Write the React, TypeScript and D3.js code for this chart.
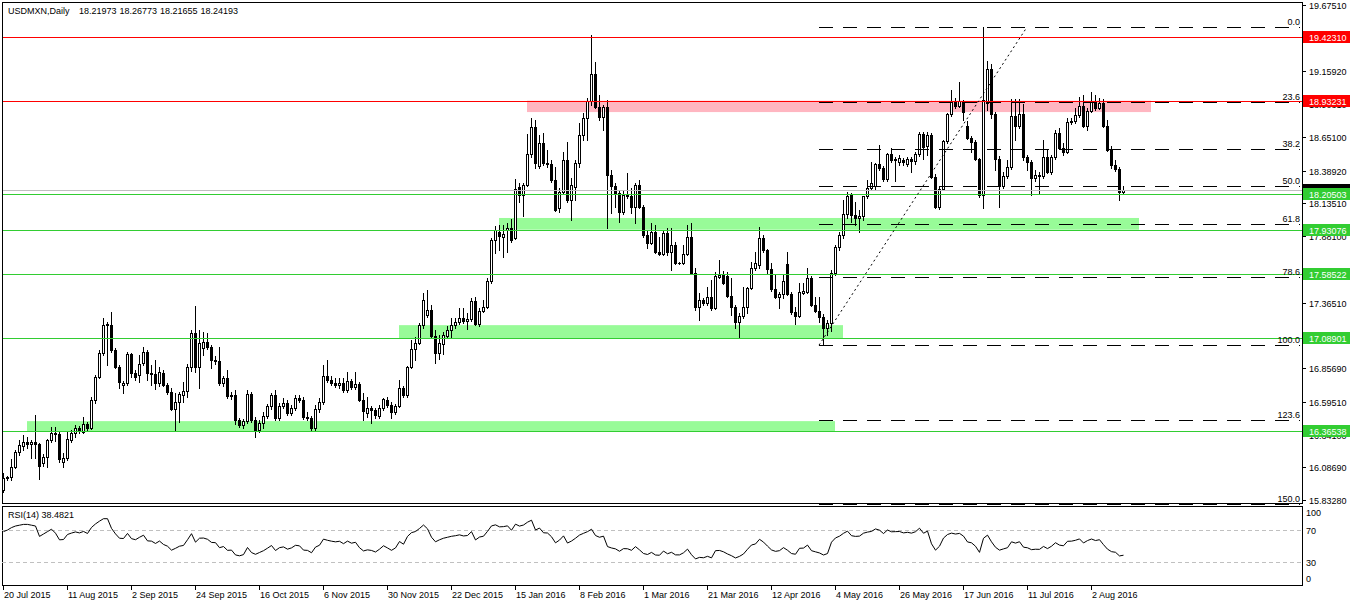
import React from "react";
import * as d3 from "d3";

const symbolTitle = "USDMXN,Daily";
const lastQuote = ["18.21973", "18.26773", "18.21655", "18.24193"];
const rsiTitle = "RSI(14) 38.4821";

// Daily candles [open, high, low, close], 20 Jul 2015 .. 10 Aug 2016
const ohlc: [number, number, number, number][] = [
  [15.910, 16.042, 15.894, 16.003], [16.003, 16.018, 15.987, 16.011], [16.011, 16.150, 15.987, 16.089], [16.089, 16.220, 16.081, 16.204],
  [16.204, 16.298, 16.181, 16.259], [16.251, 16.336, 16.220, 16.282], [16.282, 16.321, 16.236, 16.267], [16.267, 16.298, 16.158, 16.282],
  [16.282, 16.492, 16.158, 16.267], [16.267, 16.275, 15.995, 16.096], [16.120, 16.189, 16.096, 16.166], [16.166, 16.305, 16.089, 16.298],
  [16.298, 16.399, 16.282, 16.352], [16.352, 16.399, 16.290, 16.344], [16.344, 16.359, 16.127, 16.150], [16.127, 16.197, 16.089, 16.158],
  [16.158, 16.359, 16.143, 16.305], [16.298, 16.375, 16.282, 16.352], [16.352, 16.414, 16.321, 16.391], [16.391, 16.406, 16.352, 16.375],
  [16.359, 16.477, 16.352, 16.422], [16.422, 16.437, 16.375, 16.391], [16.391, 16.632, 16.383, 16.608], [16.608, 16.802, 16.585, 16.787],
  [16.787, 16.997, 16.779, 16.974], [16.974, 17.245, 16.958, 17.190], [17.198, 17.213, 16.880, 17.190], [17.190, 17.291, 16.981, 16.997],
  [16.997, 17.012, 16.857, 16.865], [16.865, 16.880, 16.702, 16.748], [16.725, 16.756, 16.663, 16.741], [16.741, 16.981, 16.725, 16.966],
  [16.966, 16.974, 16.787, 16.818], [16.818, 16.841, 16.764, 16.787], [16.802, 16.958, 16.748, 16.888], [16.896, 17.020, 16.880, 16.981],
  [16.981, 16.997, 16.764, 16.818], [16.818, 16.880, 16.725, 16.810], [16.810, 16.919, 16.694, 16.741], [16.741, 16.865, 16.717, 16.826],
  [16.818, 16.841, 16.717, 16.725], [16.725, 16.741, 16.655, 16.671], [16.671, 16.702, 16.531, 16.538], [16.538, 16.663, 16.367, 16.592],
  [16.592, 16.671, 16.437, 16.655], [16.647, 16.748, 16.592, 16.678], [16.678, 16.888, 16.632, 16.865], [16.865, 17.152, 16.833, 17.129],
  [17.129, 17.338, 16.826, 16.865], [16.865, 17.152, 16.702, 17.051], [17.012, 17.136, 16.958, 17.059], [17.059, 17.129, 17.005, 17.020],
  [17.020, 17.035, 16.857, 16.919], [16.919, 16.950, 16.888, 16.911], [16.911, 17.020, 16.725, 16.741], [16.741, 16.795, 16.717, 16.779],
  [16.779, 16.841, 16.624, 16.640], [16.640, 16.671, 16.616, 16.647], [16.647, 16.686, 16.422, 16.453], [16.453, 16.468, 16.399, 16.414],
  [16.414, 16.460, 16.391, 16.445], [16.445, 16.686, 16.430, 16.655], [16.655, 16.671, 16.437, 16.453], [16.453, 16.477, 16.321, 16.375],
  [16.375, 16.453, 16.359, 16.430], [16.430, 16.515, 16.391, 16.484], [16.484, 16.577, 16.468, 16.561], [16.561, 16.663, 16.538, 16.647],
  [16.647, 16.686, 16.453, 16.468], [16.468, 16.585, 16.453, 16.561], [16.561, 16.624, 16.546, 16.585], [16.585, 16.608, 16.492, 16.508],
  [16.508, 16.569, 16.492, 16.546], [16.546, 16.647, 16.531, 16.624], [16.624, 16.647, 16.592, 16.608], [16.608, 16.632, 16.460, 16.477],
  [16.477, 16.515, 16.453, 16.468], [16.468, 16.484, 16.375, 16.391], [16.391, 16.569, 16.375, 16.538], [16.538, 16.624, 16.515, 16.592],
  [16.592, 16.880, 16.577, 16.795], [16.795, 16.919, 16.748, 16.764], [16.764, 16.795, 16.725, 16.741], [16.741, 16.779, 16.710, 16.725],
  [16.725, 16.779, 16.702, 16.741], [16.741, 16.779, 16.671, 16.686], [16.686, 16.826, 16.671, 16.756], [16.756, 16.771, 16.694, 16.710],
  [16.710, 16.826, 16.694, 16.733], [16.733, 16.748, 16.600, 16.608], [16.608, 16.663, 16.453, 16.523], [16.508, 16.632, 16.477, 16.546],
  [16.546, 16.561, 16.430, 16.531], [16.531, 16.546, 16.468, 16.492], [16.484, 16.569, 16.468, 16.546], [16.546, 16.624, 16.531, 16.616],
  [16.608, 16.632, 16.554, 16.569], [16.569, 16.592, 16.468, 16.515], [16.515, 16.577, 16.500, 16.561], [16.561, 16.764, 16.554, 16.702],
  [16.702, 16.717, 16.632, 16.647], [16.647, 16.872, 16.632, 16.865], [16.865, 17.074, 16.857, 17.005], [17.005, 17.098, 16.919, 17.051],
  [17.051, 17.206, 17.043, 17.190], [17.190, 17.439, 17.167, 17.385], [17.268, 17.462, 17.253, 17.307], [17.307, 17.346, 17.098, 17.105],
  [17.105, 17.152, 16.896, 16.974], [16.974, 17.113, 16.927, 17.051], [17.043, 17.136, 16.966, 17.113], [17.105, 17.183, 17.090, 17.152],
  [17.152, 17.245, 17.098, 17.190], [17.190, 17.245, 17.167, 17.213], [17.213, 17.322, 17.198, 17.245], [17.245, 17.322, 17.206, 17.222],
  [17.222, 17.284, 17.159, 17.237], [17.237, 17.400, 17.222, 17.377], [17.377, 17.408, 17.190, 17.198], [17.198, 17.322, 17.183, 17.299],
  [17.299, 17.385, 17.291, 17.330], [17.330, 17.556, 17.322, 17.532], [17.532, 17.866, 17.517, 17.851], [17.851, 17.959, 17.750, 17.928],
  [17.913, 17.967, 17.773, 17.882], [17.874, 17.967, 17.719, 17.897], [17.928, 17.982, 17.757, 17.944], [17.944, 18.014, 17.835, 17.851],
  [17.866, 18.324, 17.859, 18.247], [18.262, 18.293, 18.145, 18.200], [18.200, 18.293, 18.037, 18.278], [18.278, 18.674, 18.270, 18.518],
  [18.518, 18.798, 18.495, 18.728], [18.728, 18.782, 18.410, 18.449], [18.425, 18.666, 18.410, 18.604], [18.604, 18.681, 18.433, 18.449],
  [18.449, 18.549, 18.418, 18.441], [18.441, 18.472, 18.301, 18.316], [18.316, 18.418, 18.076, 18.084], [18.099, 18.254, 18.068, 18.223],
  [18.223, 18.534, 18.208, 18.472], [18.472, 18.611, 18.145, 18.161], [18.161, 18.332, 18.006, 18.278], [18.262, 18.472, 18.161, 18.449],
  [18.449, 18.759, 18.418, 18.666], [18.666, 18.837, 18.627, 18.798], [18.798, 18.953, 18.627, 18.930], [18.930, 19.442, 18.899, 19.140],
  [19.140, 19.233, 18.876, 18.883], [18.883, 18.977, 18.782, 18.806], [18.806, 18.899, 18.705, 18.883], [18.883, 18.938, 17.944, 18.355],
  [18.355, 18.394, 18.060, 18.270], [18.270, 18.293, 18.107, 18.215], [18.215, 18.239, 17.990, 18.068], [18.068, 18.239, 18.053, 18.200],
  [18.200, 18.371, 18.176, 18.192], [18.192, 18.254, 18.060, 18.107], [18.107, 18.293, 17.983, 18.278], [18.278, 18.316, 18.099, 18.107],
  [18.107, 18.122, 17.874, 17.889], [17.889, 17.928, 17.788, 17.827], [17.827, 17.983, 17.820, 17.913], [17.913, 17.967, 17.750, 17.757],
  [17.757, 17.874, 17.734, 17.742], [17.742, 17.928, 17.734, 17.905], [17.905, 17.944, 17.734, 17.757], [17.757, 17.944, 17.618, 17.812],
  [17.812, 17.835, 17.664, 17.672], [17.672, 17.680, 17.664, 17.670], [17.670, 17.812, 17.664, 17.742], [17.742, 17.967, 17.734, 17.874],
  [17.874, 17.983, 17.587, 17.595], [17.595, 17.633, 17.307, 17.330], [17.330, 17.439, 17.229, 17.385], [17.385, 17.400, 17.346, 17.361],
  [17.361, 17.486, 17.346, 17.408], [17.408, 17.540, 17.307, 17.322], [17.322, 17.602, 17.315, 17.571], [17.563, 17.695, 17.556, 17.579],
  [17.579, 17.610, 17.509, 17.517], [17.571, 17.602, 17.408, 17.416], [17.416, 17.556, 17.268, 17.330], [17.330, 17.346, 17.167, 17.213],
  [17.213, 17.284, 17.090, 17.260], [17.260, 17.486, 17.245, 17.330], [17.330, 17.486, 17.284, 17.478], [17.478, 17.680, 17.470, 17.633],
  [17.633, 17.757, 17.618, 17.672], [17.657, 17.952, 17.633, 17.866], [17.866, 17.889, 17.757, 17.773], [17.773, 17.781, 17.587, 17.626],
  [17.626, 17.672, 17.455, 17.470], [17.470, 17.579, 17.400, 17.408], [17.408, 17.447, 17.322, 17.431], [17.431, 17.587, 17.400, 17.532],
  [17.664, 17.757, 17.424, 17.431], [17.431, 17.447, 17.276, 17.291], [17.291, 17.330, 17.198, 17.260], [17.260, 17.517, 17.253, 17.447],
  [17.439, 17.517, 17.431, 17.455], [17.447, 17.633, 17.439, 17.556], [17.556, 17.571, 17.338, 17.346], [17.346, 17.408, 17.291, 17.299],
  [17.299, 17.408, 17.213, 17.253], [17.253, 17.276, 17.035, 17.167], [17.167, 17.229, 17.113, 17.206], [17.206, 17.618, 17.144, 17.595],
  [17.595, 17.812, 17.579, 17.796], [17.796, 17.913, 17.773, 17.889], [17.889, 18.161, 17.866, 18.053], [18.053, 18.223, 18.022, 18.192],
  [18.200, 18.215, 17.990, 18.045], [18.045, 18.145, 17.967, 18.022], [18.022, 18.084, 17.913, 18.037], [18.037, 18.161, 18.006, 18.192],
  [18.192, 18.316, 18.176, 18.254], [18.254, 18.456, 18.239, 18.293], [18.270, 18.449, 18.239, 18.441], [18.441, 18.588, 18.394, 18.410],
  [18.410, 18.425, 18.309, 18.324], [18.324, 18.526, 18.309, 18.518], [18.518, 18.565, 18.456, 18.472], [18.472, 18.495, 18.309, 18.480],
  [18.456, 18.511, 18.433, 18.487], [18.472, 18.487, 18.433, 18.456], [18.441, 18.495, 18.425, 18.480], [18.480, 18.495, 18.378, 18.464],
  [18.464, 18.534, 18.441, 18.518], [18.518, 18.689, 18.503, 18.674], [18.674, 18.689, 18.480, 18.573], [18.580, 18.689, 18.511, 18.666],
  [18.666, 18.681, 18.332, 18.340], [18.340, 18.363, 18.099, 18.107], [18.107, 18.262, 18.091, 18.247], [18.247, 18.627, 18.239, 18.619],
  [18.619, 18.837, 18.604, 18.829], [18.829, 19.015, 18.813, 18.922], [18.922, 18.953, 18.876, 18.891], [18.891, 19.077, 18.883, 18.930],
  [18.930, 18.938, 18.782, 18.844], [18.736, 18.775, 18.635, 18.643], [18.643, 18.658, 18.534, 18.611], [18.611, 18.627, 18.472, 18.480],
  [18.480, 18.487, 18.185, 18.200], [18.200, 19.504, 18.099, 18.938], [18.915, 19.240, 18.860, 19.178], [19.178, 19.217, 18.798, 18.829],
  [18.829, 18.844, 18.394, 18.480], [18.480, 18.503, 18.107, 18.270], [18.270, 18.378, 18.254, 18.348], [18.348, 18.472, 18.332, 18.418],
  [18.418, 18.945, 18.402, 18.813], [18.813, 18.945, 18.627, 18.736], [18.736, 18.945, 18.720, 18.829], [18.829, 18.907, 18.472, 18.495],
  [18.495, 18.511, 18.394, 18.456], [18.456, 18.472, 18.200, 18.332], [18.332, 18.394, 18.309, 18.355], [18.355, 18.378, 18.215, 18.348],
  [18.348, 18.627, 18.332, 18.495], [18.495, 18.549, 18.371, 18.378], [18.378, 18.511, 18.363, 18.495], [18.495, 18.705, 18.480, 18.681],
  [18.681, 18.720, 18.557, 18.565], [18.565, 18.604, 18.511, 18.534], [18.534, 18.798, 18.526, 18.767], [18.767, 18.798, 18.751, 18.775],
  [18.775, 18.876, 18.759, 18.821], [18.821, 18.961, 18.806, 18.891], [18.891, 18.977, 18.728, 18.736], [18.736, 18.876, 18.705, 18.852],
  [18.852, 19.000, 18.844, 18.930], [18.930, 18.977, 18.860, 18.876], [18.876, 18.953, 18.868, 18.915], [18.915, 18.945, 18.728, 18.736],
  [18.736, 18.782, 18.542, 18.549], [18.549, 18.580, 18.410, 18.433], [18.433, 18.472, 18.386, 18.402], [18.402, 18.418, 18.161, 18.220],
  [18.21973, 18.26773, 18.21655, 18.24193],
];

// RSI values read for the first 14 bars (history before the visible window)
const rsiLead = [68, 70, 73, 75, 76, 77, 77, 76, 75, 62, 65, 68, 71, 66];

const dateTickBars = [0, 16, 32, 48, 64, 80, 96, 112, 128, 144, 160, 176, 192, 208, 224, 240, 256, 272];
const dateLabels = [
  "20 Jul 2015", "11 Aug 2015", "2 Sep 2015", "24 Sep 2015", "16 Oct 2015", "6 Nov 2015", "30 Nov 2015",
  "22 Dec 2015", "15 Jan 2016", "8 Feb 2016", "1 Mar 2016", "21 Mar 2016", "12 Apr 2016", "4 May 2016",
  "26 May 2016", "17 Jun 2016", "11 Jul 2016", "2 Aug 2016",
];

const priceTicks = [19.6751, 19.1592, 18.9031, 18.651, 18.3892, 18.1351, 17.881, 17.6192, 17.3651, 16.8569, 16.5951, 16.341, 16.0869, 15.8328];

const redLevels = [19.4231, 18.93231];
const greenLevels = [18.20503, 17.93076, 17.58522, 17.08901, 16.36538];
const bidPrice = 18.24193;

const zoneFrom = [131, 124, 99, 6];
const zoneTo = [287, 284, 210, 208];
const zoneTop = [18.93231, 18.022, 17.19, 16.445];
const zoneBottom = [18.844, 17.93076, 17.08901, 16.36538];
const zoneColors = ["#FFB6C1", "#98FB98", "#98FB98", "#98FB98"];

const fibLowBar = 204;
const fibHighBar = 256;
const fibLow = 17.035;
const fibHigh = 19.504;
const fibRatios = [0, 0.236, 0.382, 0.5, 0.618, 0.786, 1, 1.236, 1.5];
const fibLabels = ["0.0", "23.6", "38.2", "50.0", "61.8", "78.6", "100.0", "123.6", "150.0"];

const rsiLevels = [70, 30];
const rsiAxisValues = [100, 70, 30, 0];

const W = 1350;
const H = 606;
const LEFT = 2;
const RIGHT = 1302;
const MAIN_TOP = 2;
const MAIN_BOTTOM = 503;
const RSI_TOP = 506;
const RSI_BOTTOM = 585;
const FONT = "'Liberation Sans', Arial, sans-serif";
const GREEN = "#32CD32";
const RED = "#FF0000";

function computeRsi(closes: number[]): number[] {
  const out: number[] = rsiLead.slice();
  let ag = 0;
  let al = 0;
  for (let k = 1; k <= 14; k++) {
    const ch = closes[k] - closes[k - 1];
    ag += Math.max(ch, 0);
    al += Math.max(-ch, 0);
  }
  ag /= 14;
  al /= 14;
  out[14] = al === 0 ? 100 : (100 * ag) / (ag + al);
  for (let k = 15; k < closes.length; k++) {
    const ch = closes[k] - closes[k - 1];
    ag = (ag * 13 + Math.max(ch, 0)) / 14;
    al = (al * 13 + Math.max(-ch, 0)) / 14;
    out[k] = al === 0 ? 100 : (100 * ag) / (ag + al);
  }
  return out;
}

export default function App() {
  const n = ohlc.length;
  const x = d3.scaleLinear().domain([0, n - 1]).range([3, 3 + 4 * (n - 1)]);
  const y = d3.scaleLinear().domain([15.8328, 19.6751]).range([500, 5]);
  const yr = d3.scaleLinear().domain([0, 100]).range([RSI_BOTTOM + 1, RSI_TOP]);

  const closes = ohlc.map((d) => d[3]);
  const rsi = computeRsi(closes);
  const rsiLine = d3
    .line<number>()
    .x((_, i) => x(i) + 0.5)
    .y((v) => yr(v));

  const fibY = (r: number) => y(fibHigh - r * (fibHigh - fibLow));

  const priceLabel = (p: number, bg: string, key: string) => {
    const py = Math.round(y(p));
    return (
      <g key={key}>
        <rect x={1303} y={py - 6} width={47} height={12} fill={bg} />
        <text x={1309} y={py + 3.5} fill="#FFFFFF" fontSize={9} fontFamily={FONT}>
          {p.toFixed(5)}
        </text>
      </g>
    );
  };

  return (
    <svg
      width={W}
      height={H}
      style={{ position: "fixed", left: 0, top: 0, background: "#FFFFFF" }}
      fontFamily={FONT}
    >
      <rect x={0} y={0} width={W} height={H} fill="#FFFFFF" />

      {/* zones */}
      {zoneFrom.map((f, i) => (
        <rect
          key={"z" + i}
          x={x(f)}
          y={y(zoneTop[i])}
          width={x(zoneTo[i]) - x(f)}
          height={y(zoneBottom[i]) - y(zoneTop[i])}
          fill={zoneColors[i]}
        />
      ))}

      {/* candles */}
      <g shapeRendering="crispEdges">
        {ohlc.map((d, i) => {
          const [o, h, l, c] = d;
          const cx = Math.round(x(i));
          const yh = Math.round(y(h));
          const yl = Math.round(y(l));
          const yo = Math.round(y(o));
          const yc = Math.round(y(c));
          const top = Math.min(yo, yc);
          const bot = Math.max(yo, yc);
          const bull = c >= o;
          return (
            <g key={"c" + i}>
              <rect x={cx} y={yh} width={1} height={yl - yh + 1} fill="#000" />
              {bull ? (
                <rect x={cx - 0.5} y={top + 0.5} width={2} height={Math.max(bot - top, 0)} fill="#FFF" stroke="#000" strokeWidth={1} />
              ) : (
                <rect x={cx - 1} y={top} width={3} height={bot - top + 1} fill="#000" />
              )}
            </g>
          );
        })}
      </g>

      {/* horizontal levels */}
      <g shapeRendering="crispEdges">
        <line x1={LEFT} x2={RIGHT} y1={Math.round(y(bidPrice)) + 0.5} y2={Math.round(y(bidPrice)) + 0.5} stroke="#C0C0C0" />
        {redLevels.map((p, i) => (
          <line key={"r" + i} x1={LEFT} x2={RIGHT} y1={Math.round(y(p)) + 0.5} y2={Math.round(y(p)) + 0.5} stroke={RED} />
        ))}
        {greenLevels.map((p, i) => (
          <line key={"g" + i} x1={LEFT} x2={RIGHT} y1={Math.round(y(p)) + 0.5} y2={Math.round(y(p)) + 0.5} stroke={GREEN} />
        ))}
        {fibRatios.map((r, i) => (
          <line
            key={"f" + i}
            x1={x(fibLowBar)}
            x2={RIGHT - 2}
            y1={Math.round(fibY(r)) + 0.5}
            y2={Math.round(fibY(r)) + 0.5}
            stroke="#000"
            strokeDasharray="14 10"
          />
        ))}
      </g>
      <line
        x1={x(fibLowBar)}
        y1={y(fibLow)}
        x2={x(fibHighBar)}
        y2={y(fibHigh)}
        stroke="#000"
        strokeWidth={1}
        strokeDasharray="2 3"
      />
      {fibLabels.map((t, i) => (
        <text key={"fl" + i} x={1300} y={Math.round(fibY(fibRatios[i])) - 2} textAnchor="end" fontSize={9} fill="#000">
          {t}
        </text>
      ))}

      {/* panel frames */}
      <g shapeRendering="crispEdges" fill="none" stroke="#000">
        <rect x={LEFT + 0.5} y={MAIN_TOP + 0.5} width={RIGHT - LEFT} height={MAIN_BOTTOM - MAIN_TOP} />
        <rect x={LEFT + 0.5} y={RSI_TOP + 0.5} width={RIGHT - LEFT} height={RSI_BOTTOM - RSI_TOP} />
      </g>

      {/* header */}
      <text x={8} y={14} fontSize={9} fill="#000">{symbolTitle}</text>
      {lastQuote.map((q, i) => (
        <text key={"q" + i} x={79 + 40.5 * i} y={14} fontSize={9} fill="#000">{q}</text>
      ))}

      {/* price axis */}
      <g shapeRendering="crispEdges">
        {priceTicks.map((p, i) => (
          <line key={"pt" + i} x1={RIGHT} x2={RIGHT + 4} y1={Math.round(y(p)) + 0.5} y2={Math.round(y(p)) + 0.5} stroke="#000" />
        ))}
      </g>
      {priceTicks.map((p, i) => (
        <text key={"pl" + i} x={1309} y={Math.round(y(p)) + 3.5} fontSize={9} fill="#000">
          {p.toFixed(5)}
        </text>
      ))}
      {priceLabel(bidPrice, "#000000", "bid")}
      {greenLevels.map((p, i) => priceLabel(p, GREEN, "gl" + i))}
      {redLevels.map((p, i) => priceLabel(p, RED, "rl" + i))}

      {/* RSI */}
      <g shapeRendering="crispEdges">
        {rsiLevels.map((v, i) => (
          <line key={"rv" + i} x1={LEFT} x2={RIGHT} y1={Math.round(yr(v)) + 0.5} y2={Math.round(yr(v)) + 0.5} stroke="#C0C0C0" strokeDasharray="4 3" />
        ))}
      </g>
      <path d={rsiLine(rsi) || ""} fill="none" stroke="#000" strokeWidth={1} />
      <text x={8} y={518} fontSize={9} fill="#000">{rsiTitle}</text>
      {rsiAxisValues.map((v, i) => (
        <text key={"ra" + i} x={1306} y={Math.min(Math.max(Math.round(yr(v)) + 3.5, 516), 582)} fontSize={9} fill="#000">
          {v}
        </text>
      ))}

      {/* date axis */}
      <g shapeRendering="crispEdges">
        {dateTickBars.map((b, i) => (
          <line key={"dt" + i} x1={Math.round(x(b)) + 0.5} x2={Math.round(x(b)) + 0.5} y1={RSI_BOTTOM} y2={RSI_BOTTOM + 5} stroke="#000" />
        ))}
      </g>
      {dateTickBars.map((b, i) => (
        <text key={"dl" + i} x={Math.round(x(b)) + 1} y={598} fontSize={9} fill="#000">
          {dateLabels[i]}
        </text>
      ))}
    </svg>
  );
}
